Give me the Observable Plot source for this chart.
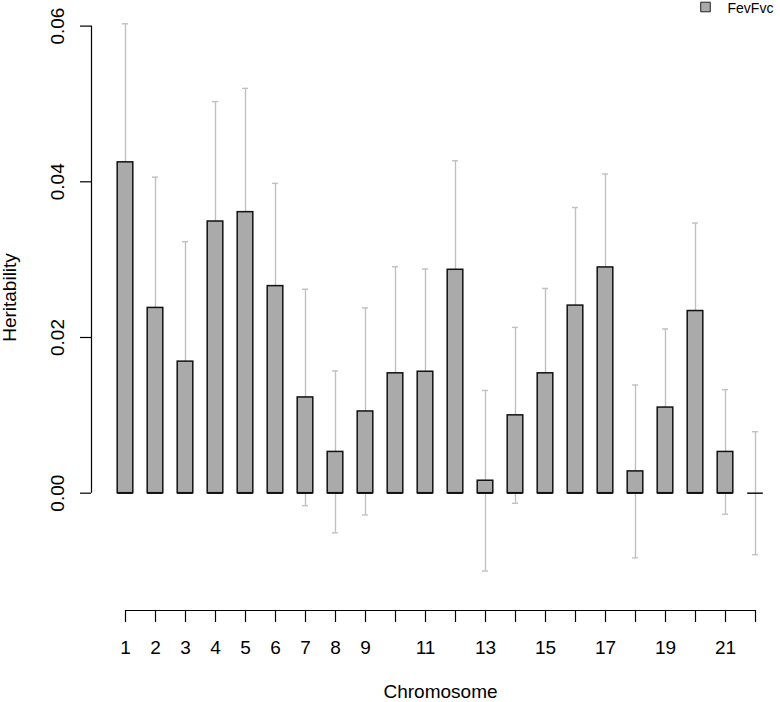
<!DOCTYPE html>
<html>
<head>
<meta charset="utf-8">
<script src="https://cdn.jsdelivr.net/npm/d3@7"></script>
<script src="https://cdn.jsdelivr.net/npm/@observablehq/plot@0.6"></script>
<style>
  html, body { margin: 0; padding: 0; background: #ffffff; }
  #chart svg { display: block; }
</style>
</head>
<body>
<div id="chart"></div>
<script>
// ---- data ----
const chromosomes = [1, 2, 3, 4, 5, 6, 7, 8, 9, 10, 11, 12, 13, 14, 15, 16, 17, 18, 19, 20, 21, 22];
const heritability = [0.0425, 0.0238, 0.0169, 0.0349, 0.0361, 0.0266, 0.0123, 0.0053, 0.0105, 0.0154, 0.0156,
                      0.0287, 0.0016, 0.0100, 0.0154, 0.0241, 0.0290, 0.0028, 0.0110, 0.0234, 0.0053, 0.0000];
const stdError = [0.0178, 0.0168, 0.0154, 0.0154, 0.0159, 0.0132, 0.0139, 0.0104, 0.0133, 0.0137, 0.0132,
                  0.0140, 0.0116, 0.0113, 0.0109, 0.0126, 0.0120, 0.0111, 0.0101, 0.0113, 0.0080, 0.0079];
const yTicks = [0, 0.02, 0.04, 0.06];
const labeledChromosomes = [1, 2, 3, 4, 5, 6, 7, 8, 9, 11, 13, 15, 17, 19, 21];
const seriesName = "FevFvc";
const xLabel = "Chromosome";
const yLabel = "Heritability";

// ---- table built from the arrays ----
const data = chromosomes.map((c, i) => ({chr: c, h: heritability[i], se: stdError[i]}));

// ---- layout ----
const xDomain = [-0.1333, 22.5];
const yDomain = [-0.01507, 0.06329];
const halfBar = 0.26;
const halfCap = 0.1;
const font = "'Liberation Sans', Arial, Helvetica, sans-serif";
const barFill = "#aaaaaa";
const errColor = "#c0c0c0";
const xMid = (chromosomes[0] + chromosomes[chromosomes.length - 1]) / 2;

const plot = Plot.plot({
  width: 780,
  height: 702,
  marginLeft: 91,
  marginRight: 10,
  marginTop: 0,
  marginBottom: 92,
  style: {fontFamily: font, fontSize: "19px", color: "#000", background: "#fff"},
  x: {type: "linear", domain: xDomain, axis: null},
  y: {type: "linear", domain: yDomain, axis: null},
  marks: [
    // error bars
    Plot.ruleX(data, {x: "chr", y1: d => d.h - d.se, y2: d => d.h + d.se, stroke: errColor, strokeWidth: 1.4}),
    Plot.ruleY(data, {y: d => d.h + d.se, x1: d => d.chr - halfCap, x2: d => d.chr + halfCap, stroke: errColor, strokeWidth: 1.4}),
    Plot.ruleY(data, {y: d => d.h - d.se, x1: d => d.chr - halfCap, x2: d => d.chr + halfCap, stroke: errColor, strokeWidth: 1.4}),
    // bars
    Plot.rectY(data, {x1: d => d.chr - halfBar, x2: d => d.chr + halfBar, y1: 0, y2: "h",
                      fill: barFill, stroke: "#111", strokeWidth: 1.5}),
    Plot.ruleY(data, {y: () => 0, x1: d => d.chr - halfBar, x2: d => d.chr + halfBar, stroke: "#111", strokeWidth: 1.5}),
    // y axis
    Plot.ruleX([yTicks[0]], {x: () => xDomain[0], y1: () => yTicks[0], y2: () => yTicks[yTicks.length - 1], stroke: "#000", strokeWidth: 1.2}),
    Plot.axisY({ticks: yTicks, anchor: "left", tickSize: 11, tickFormat: () => "", label: null, strokeWidth: 1.2}),
    Plot.text(yTicks, {x: () => xDomain[0], y: d => d, text: d => d3.format(".2f")(d), rotate: -90, dx: -28,
                       textAnchor: "middle", lineAnchor: "bottom", fontSize: 19, fill: "#000"}),
    Plot.text([yLabel], {frameAnchor: "left", text: d => d, rotate: -90, dx: -76, dy: -8,
                         textAnchor: "middle", lineAnchor: "bottom", fontSize: 19, fill: "#000"}),
    // x axis
    Plot.ruleY([yDomain[0]], {y: () => yDomain[0], x1: () => chromosomes[0], x2: () => chromosomes[chromosomes.length - 1], stroke: "#000", strokeWidth: 1.2}),
    Plot.axisX({ticks: chromosomes, anchor: "bottom", tickSize: 12, label: null, strokeWidth: 1.2,
                tickFormat: () => ""}),
    Plot.text(labeledChromosomes, {x: d => d, frameAnchor: "bottom", text: d => String(d), dy: 43,
                                   textAnchor: "middle", lineAnchor: "bottom", fontSize: 19, fill: "#000"}),
    Plot.text([xLabel], {x: () => xMid, frameAnchor: "bottom", text: d => d, dy: 87,
                         textAnchor: "middle", lineAnchor: "bottom", fontSize: 19, fill: "#000"}),
    // legend
    Plot.dot([seriesName], {frameAnchor: "top-right", symbol: "square", r: 5.4, dx: -65, dy: 6.5,
                            fill: barFill, stroke: "#222", strokeWidth: 1}),
    Plot.text([seriesName], {frameAnchor: "top-right", text: d => d, dx: -43, dy: 12,
                             textAnchor: "start", lineAnchor: "bottom", fontSize: 14, fill: "#000"})
  ]
});
document.getElementById("chart").appendChild(plot);
</script>
</body>
</html>
